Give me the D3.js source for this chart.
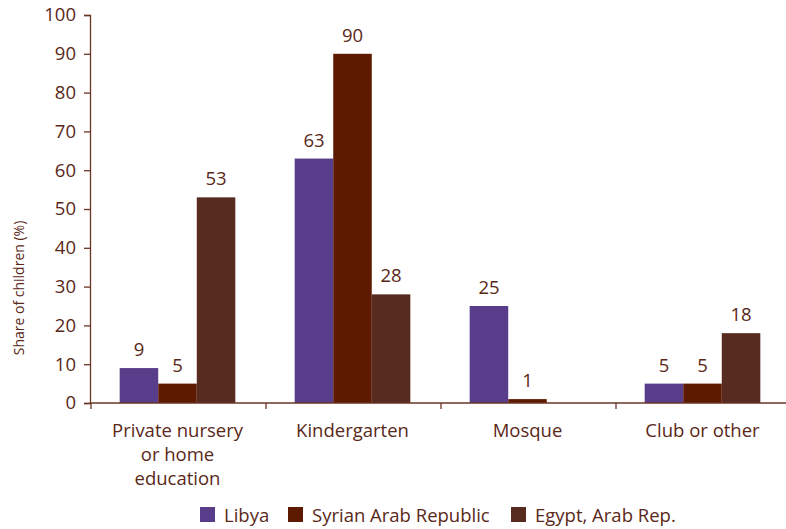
<!DOCTYPE html>
<html>
<head>
<meta charset="utf-8">
<script src="https://cdn.jsdelivr.net/npm/d3@7"></script>
<style>
  html, body { margin: 0; padding: 0; background: #fff; }
  svg { display: block; font-family: "Open Sans", "Noto Sans", sans-serif; }
</style>
</head>
<body>
<svg id="chart" width="786" height="529"></svg>
<script>
// Pre-school attendance by type, per country (percent)
const categories = [["Private nursery", "or home", "education"], ["Kindergarten"], ["Mosque"], ["Club or other"]];
const seriesNames = ["Libya", "Syrian Arab Republic", "Egypt, Arab Rep."];
const libya = [9, 63, 25, 5];
const syria = [5, 90, 1, 5];
const egypt = [53, 28, null, 18];
const yTicks = [0, 10, 20, 30, 40, 50, 60, 70, 80, 90, 100];
const yTitle = "Share of children (%)";
const colors = ["#573d8a", "#5e1a00", "#582b20"];

const textColor = "#5a2818";
const axisColor = "#6b3426";

const svg = d3.select("#chart");
const margin = { left: 90, right: -4, top: 15, bottom: 126 };
const W = 786, H = 529;
const plotW = W - margin.left - margin.right;
const plotH = H - margin.top - margin.bottom;

const series = [libya, syria, egypt];
const catIdx = d3.range(categories.length);

const x0 = d3.scaleBand().domain(catIdx).range([margin.left, margin.left + plotW]).paddingInner(0).paddingOuter(0);
const x1 = d3.scaleBand().domain(d3.range(series.length)).range([0, x0.bandwidth()]).paddingOuter(0.77).paddingInner(0);
const y = d3.scaleLinear().domain([0, 100]).range([margin.top + plotH, margin.top]);

// Y axis
const yAxis = svg.append("g")
  .attr("transform", `translate(${margin.left},0)`)
  .call(d3.axisLeft(y).tickValues(yTicks).tickSize(6).tickPadding(8));
yAxis.select(".domain").attr("stroke", axisColor).attr("stroke-width", 1.3);
yAxis.selectAll(".tick line").attr("stroke", axisColor).attr("stroke-width", 1.3);
yAxis.selectAll(".tick text").attr("fill", textColor).style("font-size", "18.5px").style("font-family", "\"Open Sans\", sans-serif");

// Y axis title
svg.append("text")
  .attr("transform", `translate(24,${288}) rotate(-90)`)
  .attr("text-anchor", "middle")
  .attr("fill", textColor)
  .style("font-size", "14px")
  .text(yTitle);

// Bars
const groups = svg.append("g").selectAll("g")
  .data(catIdx).join("g")
  .attr("transform", i => `translate(${x0(i)},0)`);

const cells = i => series.map((s, k) => ({ k, v: s[i] })).filter(d => d.v != null);

groups.selectAll("rect")
  .data(cells)
  .join("rect")
  .attr("x", d => x1(d.k))
  .attr("width", x1.bandwidth())
  .attr("y", d => y(d.v))
  .attr("height", d => y(0) - y(d.v))
  .attr("fill", d => colors[d.k]);

groups.selectAll("text.val")
  .data(cells)
  .join("text")
  .attr("class", "val")
  .attr("x", d => x1(d.k) + x1.bandwidth() / 2)
  .attr("y", d => y(d.v) - 12)
  .attr("text-anchor", "middle")
  .attr("fill", textColor)
  .style("font-size", "18.5px")
  .text(d => d.v);

// X axis line and category ticks
svg.append("line")
  .attr("x1", margin.left).attr("x2", W)
  .attr("y1", y(0)).attr("y2", y(0))
  .attr("stroke", axisColor).attr("stroke-width", 1.3);
svg.append("g").selectAll("line")
  .data(d3.range(categories.length + 1))
  .join("line")
  .attr("x1", i => margin.left + i * x0.bandwidth() + 1)
  .attr("x2", i => margin.left + i * x0.bandwidth() + 1)
  .attr("y1", y(0)).attr("y2", y(0) + 6)
  .attr("stroke", axisColor).attr("stroke-width", 1.3);

// Category labels
svg.append("g").selectAll("text")
  .data(catIdx).join("text")
  .attr("x", i => x0(i) + x0.bandwidth() / 2)
  .attr("y", y(0) + 34)
  .attr("text-anchor", "middle")
  .attr("fill", textColor)
  .style("font-size", "18.5px")
  .each(function (i) {
    d3.select(this).selectAll("tspan")
      .data(categories[i]).join("tspan")
      .attr("x", x0(i) + x0.bandwidth() / 2)
      .attr("dy", (d, j) => j === 0 ? 0 : 24)
      .text(d => d);
  });

// Legend
const legendX = [200, 288, 511];
const legend = svg.append("g").selectAll("g")
  .data(seriesNames).join("g")
  .attr("transform", (d, i) => `translate(${legendX[i]},507)`);
legend.append("rect").attr("width", 15).attr("height", 15).attr("fill", (d, i) => colors[i]);
legend.append("text")
  .attr("x", 24).attr("y", 14.5)
  .attr("fill", textColor)
  .style("font-size", "18.5px")
  .text(d => d);
</script>
</body>
</html>
